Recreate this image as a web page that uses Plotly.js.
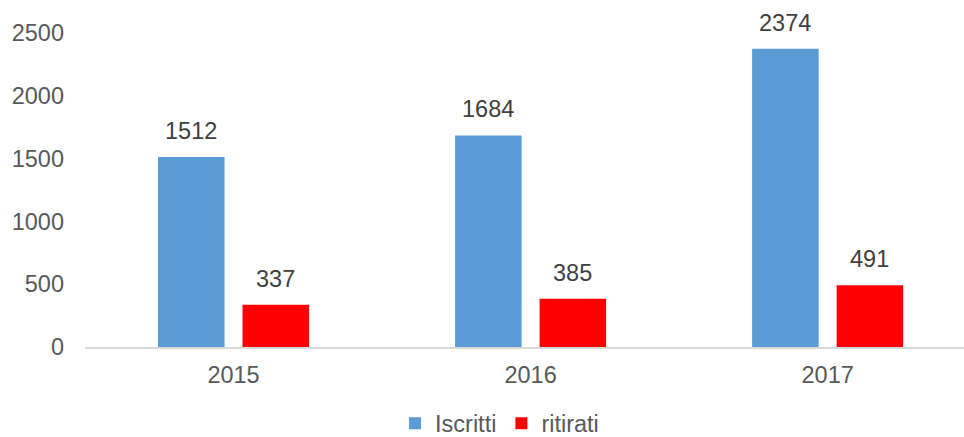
<!DOCTYPE html>
<html>
<head>
<meta charset="utf-8">
<script src="https://cdn.plot.ly/plotly-3.0.1.min.js"></script>
<style>html,body{margin:0;padding:0;background:#fff}#chart{width:964px;height:437px}</style>
</head>
<body>
<div id="chart"></div>
<script>
const years = ['2015', '2016', '2017'];
const iscritti = [1512, 1684, 2374];
const ritirati = [337, 385, 491];
const seriesNames = ['Iscritti', 'ritirati'];
const yTicks = [0, 500, 1000, 1500, 2000, 2500];

const FONT = 'Liberation Sans, Arial, sans-serif';
const barOffset = 0.1423; // half of bar slot in category units

const traces = [
  {type: 'bar', name: seriesNames[0], x: years, y: iscritti,
   marker: {color: '#5B9BD5'}, hoverinfo: 'y'},
  {type: 'bar', name: seriesNames[1], x: years, y: ritirati,
   marker: {color: '#FF0000'}, hoverinfo: 'y'}
];

const annotations = [];
[iscritti, ritirati].forEach((vals, s) => {
  vals.forEach((v, i) => {
    annotations.push({
      x: i + (s === 0 ? -barOffset : barOffset), y: v, xref: 'x', yref: 'y',
      text: String(v), showarrow: false, yanchor: 'bottom', yshift: 11,
      font: {family: FONT, size: 23.5, color: '#404040'}
    });
  });
});

const layout = {
  width: 964, height: 437,
  margin: {l: 85, r: 0, t: 32.5, b: 90, autoexpand: false},
  paper_bgcolor: '#fff', plot_bgcolor: '#fff',
  barmode: 'group', bargap: 0.431, bargroupgap: 0.213,
  font: {family: FONT, color: '#595959', size: 23.5},
  xaxis: {
    type: 'category', range: [-0.5, 2.459], showgrid: false, automargin: false,
    showline: true, linecolor: '#D9D9D9', linewidth: 1.5,
    ticks: '', ticklabelstandoff: 6,
    tickfont: {family: FONT, size: 23.5, color: '#595959'}
  },
  yaxis: {
    range: [0, 2500], tickvals: yTicks, ticktext: yTicks.map(String), automargin: false,
    showgrid: false, zeroline: false, showline: false, ticks: '',
    ticklabelstandoff: 20,
    tickfont: {family: FONT, size: 23.5, color: '#595959'}
  },
  showlegend: true,
  legend: {orientation: 'h', xref: 'paper', x: 0.4716, xanchor: 'center',
           yref: 'container', y: 0.031, yanchor: 'middle',
           font: {family: FONT, size: 23.5, color: '#595959'},
           traceorder: 'normal', itemwidth: 30},
  annotations: annotations
};

Plotly.newPlot('chart', traces, layout, {staticPlot: true, displayModeBar: false});
</script>
</body>
</html>
